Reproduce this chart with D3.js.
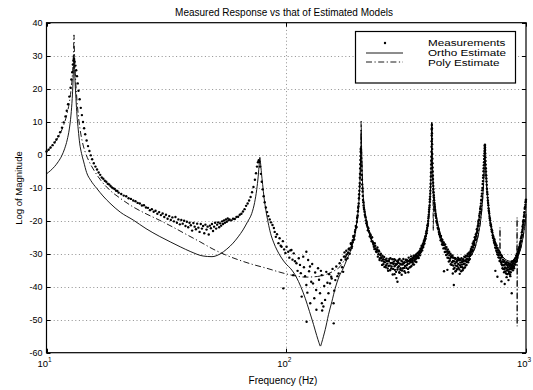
<!DOCTYPE html>
<html>
<head>
<meta charset="utf-8">
<script src="https://cdn.jsdelivr.net/npm/d3@7"></script>
<style>
  body { margin: 0; background: #fff; }
  text { font-family: "Liberation Sans", Arial, Helvetica, sans-serif; fill: #000; }
</style>
</head>
<body>
<script>
// ---- data: [frequency Hz, log magnitude] ----
const measLow = [
  [10.0,1.0],[10.2,1.5],[10.4,2.2],[10.6,2.9],[10.8,3.7],[11.0,4.6],[11.2,5.6],[11.4,6.8],[11.6,8.2],[11.8,9.8],
  [12.0,11.6],[12.15,13.3],[12.3,15.3],[12.45,17.6],[12.6,20.3],[12.7,22.8],[12.8,25.0],[12.88,27.3],[12.95,28.5],[13.02,29.0],
  [13.1,28.2],[13.2,27.0],[13.3,25.6],[13.4,23.8],[13.5,21.6],[13.6,19.4],[13.75,16.8],[13.9,14.2],[14.05,12.0],[14.2,9.9],
  [14.35,8.0],[14.5,6.2],[14.7,4.3],[14.9,2.6],[15.1,1.1],[15.3,-0.2],[15.5,-1.4],[15.75,-2.6],[16.0,-3.6],[16.25,-4.5],
  [16.5,-5.4],[16.75,-6.1],[17.0,-6.9],[17.25,-7.3],[17.5,-7.9],[17.75,-8.2],[18.0,-8.8],[18.25,-9.0],[18.5,-9.5],[18.75,-9.9],
  [19.0,-10.2],[19.25,-10.4],[19.5,-10.9],[19.75,-11.0],[20.0,-11.5],[20.5,-11.9],[21.0,-12.4],[21.5,-12.6],[22.0,-13.2],[22.5,-13.4],
  [23.0,-13.9],[23.5,-14.1],[24.0,-14.6],[24.5,-14.8],[25.0,-15.4],[25.5,-15.3],[26.0,-16.0],[26.5,-16.1],[27.0,-16.8],[27.5,-16.5],
  [28.0,-17.3],[28.5,-17.0],[29.0,-17.9],[29.5,-17.4],[30.0,-18.3],[30.5,-17.8],[31.0,-18.9],[31.5,-18.2],[32.0,-19.4],[32.5,-18.6],
  [33.0,-19.8],[33.5,-19.0],[34.0,-20.2],[34.5,-18.9],[35.0,-20.6],[35.5,-19.6],[36.0,-21.1],[36.5,-19.8],[37.0,-20.9],[37.5,-20.0],
  [38.0,-21.6],[38.5,-20.3],[39.0,-22.0],[39.5,-20.6],[40.0,-21.4],[40.5,-23.0],[41.0,-20.7],[41.5,-21.8],[42.0,-22.6],[42.5,-20.9],
  [43.0,-22.1],[43.5,-23.4],[44.0,-21.0],[44.5,-22.4],[45.0,-21.6],[45.5,-23.8],[46.0,-21.2],[46.5,-22.7],[47.0,-21.8],[47.5,-24.2],
  [48.0,-21.5],[48.5,-22.3],[49.0,-21.0],[49.5,-23.1],[50.0,-21.8],[50.5,-20.6],[51.0,-22.4],[51.5,-21.2],[52.0,-20.5],[52.5,-22.0],
  [53.0,-20.8],[53.5,-21.5],[54.0,-20.2],[54.5,-21.0],[55.0,-19.9],[55.5,-20.6],[56.0,-19.6],[56.5,-20.3],[57.0,-19.3],[57.5,-19.9],
  [58.0,-19.6],[59.0,-19.9],[60.0,-19.4],[61.0,-19.5],[62.0,-18.9],[63.0,-18.8],[64.0,-18.2],[65.0,-17.9],[66.0,-17.2],[67.0,-16.5],
  [68.0,-15.5],[69.0,-14.8],[70.0,-13.9],[71.0,-12.8],[72.0,-11.4],[73.0,-9.8],[74.0,-7.6],[74.8,-5.6],[75.5,-3.6],[76.2,-2.3],
  [76.8,-1.7],[77.3,-2.2],[77.8,-3.6],[78.4,-5.8],[79.0,-8.2],[79.7,-10.5],[80.5,-12.6],[81.3,-14.4],[82.2,-16.0],[83.2,-17.4],
  [84.2,-18.6],[85.3,-19.6],[86.4,-20.5],[87.6,-21.3],[88.8,-22.2]
];

const measMid = [
  [89.5,-23.4],[90.5,-24.9],[91.5,-24.1],[92.8,-26.8],[93.8,-25.3],[94.8,-27.6],[95.6,-27.9],[96.8,-26.2],[97.2,-40.5],[98,-28.7],
  [99.2,-29.8],[100.3,-27.9],[101.9,-29.4],[103,-31.2],[104,-29.0],[105.1,-28.9],[106.2,-31.8],[106.9,-36.5],[107.5,-29.9],[108.8,-32.3],
  [110.3,-32.9],[111.5,-35.2],[112.8,-31.4],[114.1,-33.4],[115,-35.9],[116,-43],[117.7,-30.9],[118.5,-34.1],[119.8,-36.8],[121.3,-29.4],
  [121.3,-39.5],[121.6,-50.6],[122.5,-41.8],[123.4,-31.9],[124.5,-35.3],[125.6,-33.9],[125.9,-45],[127.1,-38.5],[128.3,-33.1],[129.3,-39],
  [130.9,-43.5],[132,-35.7],[133.3,-41],[133.6,-47],[135.7,-34.4],[137,-37.9],[138.3,-42],[139.5,-35.2],[140.6,-36.5],[140.8,-45],
  [141.2,-47.2],[142.9,-46],[144,-39.8],[145.2,-44],[146.9,-35.5],[148.5,-38.8],[150,-42],[151,-36.2],[152.2,-39],[154,-37],
  [154.7,-37.5],[156,-34.6],[157.5,-45],[157.8,-51.1],[158.5,-41.2],[160.2,-38],[161.7,-33.9],[163.5,-36.8],[165.4,-36],[167,-32.9],
  [169.5,-31.9],[171,-34.1],[172.7,-35.5],[174,-30.9]
];

const measHigh = [
  [175,-29.6],[177,-31.8],[179,-30.2],[181,-29.7],[183,-28.4],[185,-28.9],[186.5,-27.1],[188,-27.8],[189.5,-25.9],[191,-25.0],
  [192.5,-24.6],[194,-22.8],[195.5,-22.1],[197,-20.3],[198,-18.9],[199,-17.1],[200,-15.6],[201,-13.2],[201.8,-10.9],[202.5,-8.6],
  [203.1,-5.8],[203.6,-2.9],[204.1,-0.4],[204.6,1.8],[205.1,0.6],[205.6,-2.1],[206.2,-4.8],[206.9,-7.6],[207.7,-10.2],[208.6,-12.5],
  [209.6,-14.4],[210.7,-16.1],[212,-17.3],[213.5,-18.6],[215,-19.9],[216.5,-20.4],[218,-21.8],[220,-22.3],[222,-23.6],[224,-24.1],
  [226,-25.4],[228,-25.0],[230,-26.7],[232,-27.9],[234,-26.8],[236,-28.6],[238,-29.5],[240,-28.1],[242,-30.2],[244,-29.3],
  [246,-31.4],[248,-30.0],[250,-32.1],[252,-30.6],[254,-33.2],[256,-31.0],[258,-32.6],[260,-34.1],[262,-31.5],[264,-33.0],
  [266,-35.2],[268,-32.2],[270,-33.6],[272,-31.4],[274,-34.5],[276,-32.8],[278,-36.3],[280,-33.1],[282,-31.7],[284,-34.9],
  [286,-33.4],[288,-37.4],[290,-32.3],[292,-34.2],[294,-31.9],[296,-35.6],[298,-33.0],[300,-34.4],[302,-32.1],[304,-35.1],
  [306,-33.3],[308,-31.6],[310,-34.3],[312,-32.6],[314,-35.8],[316,-31.8],[318,-33.5],[320,-32.4],[322,-34.6],[324,-31.2],
  [326,-33.0],[328,-31.9],[330,-34.0],[332,-30.8],[334,-32.6],[336,-31.4],[338,-33.2],[340,-30.6],[342,-32.0],[344,-30.9],
  [346,-31.7],[348,-30.2],[350,-31.4],[352,-29.9],[354,-30.8],[356,-29.6],[358,-30.3],[360,-29.2],[362,-29.8],[364,-28.4],
  [366,-28.9],[368,-27.9],[370,-28.2],[372,-26.9],[374,-27.3],[376,-25.9],[378,-26.1],[380,-24.8],[382,-24.6],[384,-23.3],
  [386,-22.9],[388,-21.4],[390,-20.9],[391.5,-19.3],[393,-18.2],[394.5,-16.6],[396,-15.4],[397.3,-13.5],[398.5,-11.8],[399.6,-9.8],
  [400.6,-7.7],[401.5,-5.4],[402.3,-3.0],[403,-0.6],[403.7,2.4],[404.3,5.8],[404.8,9.0],[405.3,6.5],[405.9,3.2],[406.6,0.2],
  [407.4,-2.6],[408.3,-5.1],[409.3,-7.4],[410.4,-9.5],[411.6,-11.4],[413,-13.0],[414.5,-14.6],[416,-15.8],[418,-17.0],[420,-18.4],
  [422,-19.2],[424.5,-20.6],[427,-21.3],[430,-22.4],[433,-23.4],[436,-23.9],[439,-25.1],[442,-24.6],[445,-26.3],[448,-25.8],
  [451,-27.4],[454,-26.6],[457,-28.3],[460,-27.2],[463,-29.4],[466,-28.0],[469,-30.2],[472,-28.7],[475,-31.3],[478,-29.4],
  [481,-32.1],[484,-30.0],[487,-31.0],[490,-33.4],[493,-30.5],[496,-32.2],[499,-34.6],[502,-31.3],[505,-33.0],[508,-31.6],
  [511,-35.2],[514,-32.3],[517,-33.8],[520,-31.2],[523,-34.3],[526,-32.0],[529,-36.1],[532,-32.7],[535,-34.0],[538,-31.4],
  [541,-33.3],[544,-35.0],[547,-31.7],[550,-33.1],[553,-30.9],[556,-34.2],[559,-32.2],[562,-30.6],[565,-33.4],[568,-31.5],
  [571,-30.1],[574,-32.6],[577,-30.8],[580,-29.6],[583,-31.6],[586,-29.8],[589,-28.6],[592,-30.2],[595,-28.7],[598,-27.8],
  [601,-29.0],[604,-27.3],[607,-26.5],[610,-27.4],[613,-25.6],[616,-25.1],[619,-25.7],[622,-23.8],[625,-23.4],[628,-22.9],
  [631,-21.4],[634,-20.8],[637,-19.6],[640,-18.9],[643,-17.3],[646,-16.5],[649,-14.8],[652,-13.6],[655,-11.8],[658,-10.1],
  [661,-8.0],[663.5,-6.2],[666,-4.1],[668,-2.3],[670,-0.4],[671.5,1.1],[673,2.6],[674.3,3.0],[675.5,1.4],[677,-0.8],
  [679,-3.0],[681,-5.1],[683.5,-7.2],[686,-9.1],[689,-11.3],[692,-13.0],[695,-14.6],[698,-16.2],[701,-17.3],[704,-18.6],
  [707,-19.4],[710,-20.7],[714,-21.2],[718,-22.6],[722,-23.0],[726,-24.4],[730,-24.7],[734,-26.0],[738,-25.6],[742,-27.3],
  [746,-26.8],[750,-28.4],[754,-27.5],[758,-29.6],[762,-28.3],[766,-30.4],[770,-29.0],[774,-31.2],[778,-29.6],[782,-32.0],
  [786,-30.3],[790,-33.1],[794,-31.0],[798,-34.4],[802,-31.8],[806,-33.5],[810,-35.6],[814,-32.2],[818,-34.2],[822,-32.8],
  [826,-36.0],[830,-33.3],[834,-35.1],[838,-33.6],[842,-34.8],[846,-32.9],[850,-35.4],[854,-33.7],[858,-36.3],[862,-33.2],
  [866,-34.7],[870,-32.6],[874,-34.4],[878,-33.1],[882,-35.0],[886,-32.3],[890,-33.9],[894,-31.8],[898,-33.2],[902,-31.4],
  [906,-32.5],[910,-30.6],[914,-31.8],[918,-29.9],[922,-31.2],[926,-29.4],[930,-30.0],[934,-28.5],[938,-29.0],[942,-27.4],
  [946,-27.8],[950,-26.3],[954,-26.1],[958,-24.7],[962,-24.3],[966,-22.8],[970,-22.2],[974,-20.6],[978,-19.8],[982,-18.3],
  [986,-17.4],[990,-16.0],[994,-15.2],[998,-14.0],
  [283,-36.2],[291,-38.5],[297,-35.8],[455,-35.3],[470,-34.9],[495,-36.0],[500,-39.5],[507,-35.4],
  [745,-35.2],[760,-37.0],[790,-38.4],[815,-39.2],[830,-37.1],[845,-38.0],[860,-36.8],[872,-42.0]
];

// second pass of measured points in the dense 175-1000 Hz band
const measHighDense = [
  [176,-30.8],[178,-29.1],[180,-31.4],[182,-28.6],[184,-30.0],[186,-26.8],[187.5,-28.3],[189,-26.5],[190.5,-24.6],[192,-25.7],
  [193.5,-23.4],[195,-21.6],[196.5,-21.9],[197.5,-19.2],[198.5,-18.4],[199.5,-16.1],[200.5,-14.8],[201.4,-12.0],[202.2,-9.6],[202.8,-7.0],
  [203.4,-4.2],[203.9,-1.6],[204.4,0.9],[204.9,1.5],[205.4,-1.0],[205.9,-3.4],[206.5,-6.1],[207.3,-9.0],[208.1,-11.2],[209.1,-13.7],
  [210.1,-15.4],[211.3,-16.6],[212.7,-18.2],[214.2,-19.0],[215.8,-20.8],[217.2,-21.3],[219,-22.9],[221,-23.1],[223,-24.8],[225,-24.5],
  [227,-26.2],[229,-26.3],[231,-27.2],[233,-28.6],[235,-27.6],[237,-29.3],[239,-28.8],[241,-30.9],[243,-29.0],[245,-31.9],
  [247,-30.4],[249,-31.3],[251,-33.4],[253,-31.8],[255,-32.4],[257,-34.0],[259,-31.8],[261,-33.5],[263,-32.2],[265,-34.5],
  [267,-33.7],[269,-31.6],[271,-35.0],[273,-32.9],[275,-33.9],[277,-31.7],[279,-34.6],[281,-32.4],[283,-33.8],[285,-31.9],
  [287,-35.5],[289,-33.2],[291,-34.8],[293,-32.6],[295,-33.8],[297,-31.6],[299,-34.9],[301,-33.3],[303,-36.4],[305,-32.4],
  [307,-34.4],[309,-32.9],[311,-35.3],[313,-33.7],[315,-31.9],[317,-34.3],[319,-32.0],[321,-33.1],[323,-35.6],[325,-32.2],
  [327,-34.2],[329,-32.5],[331,-31.6],[333,-33.7],[335,-31.9],[337,-32.5],[339,-31.3],[341,-33.3],[343,-30.8],[345,-32.4],
  [347,-30.5],[349,-32.5],[351,-30.7],[353,-31.1],[355,-29.8],[357,-31.3],[359,-29.5],[361,-30.5],[363,-28.6],[365,-29.4],
  [367,-27.6],[369,-29.0],[371,-27.4],[373,-28.0],[375,-26.4],[377,-26.9],[379,-25.3],[381,-25.5],[383,-23.9],[385,-23.8],
  [387,-22.2],[389,-21.6],[390.8,-20.1],[392.3,-18.8],[393.8,-17.3],[395.3,-16.0],[396.7,-14.3],[397.9,-12.7],[399,-10.9],[400.1,-8.8],
  [401,-6.6],[401.9,-4.2],[402.7,-1.8],[403.4,0.9],[404,4.1],[404.6,7.6],[405.1,8.0],[405.6,4.8],[406.2,1.7],[407,-1.2],
  [407.8,-3.9],[408.8,-6.3],[409.8,-8.5],[411,-10.4],[412.3,-12.3],[413.7,-13.8],[415.2,-15.2],[417,-16.5],[419,-17.8],[421,-18.6],
  [423,-20.1],[425.5,-20.4],[428.5,-22.1],[431.5,-22.7],[434.5,-24.1],[437.5,-24.6],[440.5,-25.9],[443.5,-25.6],[446.5,-27.2],[449.5,-26.8],
  [452.5,-28.4],[455.5,-27.3],[458.5,-29.5],[461.5,-28.5],[464.5,-30.4],[467.5,-29.3],[470.5,-31.2],[473.5,-29.8],[476.5,-32.4],[479.5,-30.5],
  [482.5,-31.5],[485.5,-33.2],[488.5,-30.8],[491.5,-32.6],[494.5,-31.2],[497.5,-33.6],[500.5,-32.3],[503.5,-34.3],[506.5,-31.4],[509.5,-33.6],
  [512.5,-32.6],[515.5,-34.7],[518.5,-32.0],[521.5,-33.1],[524.5,-31.5],[527.5,-34.8],[530.5,-33.5],[533.5,-31.8],[536.5,-35.3],[539.5,-32.6],
  [542.5,-34.1],[545.5,-32.4],[548.5,-34.5],[551.5,-32.1],[554.5,-33.0],[557.5,-31.1],[560.5,-33.6],[563.5,-31.8],[566.5,-32.5],[569.5,-30.7],
  [572.5,-31.8],[575.5,-29.9],[578.5,-31.9],[581.5,-30.2],[584.5,-30.6],[587.5,-29.2],[590.5,-29.4],[593.5,-28.0],[596.5,-29.3],[599.5,-26.9],
  [602.5,-28.1],[605.5,-26.2],[608.5,-26.9],[611.5,-25.0],[614.5,-25.9],[617.5,-24.2],[620.5,-24.6],[623.5,-22.6],[626.5,-22.4],[629.5,-21.8],
  [632.5,-20.3],[635.5,-19.9],[638.5,-18.4],[641.5,-17.8],[644.5,-16.2],[647.5,-15.6],[650.5,-13.9],[653.5,-12.6],[656.5,-10.8],[659.5,-8.9],
  [662.2,-7.0],[664.8,-5.0],[667,-3.2],[669,-1.3],[670.8,0.4],[672.3,1.9],[673.6,2.9],[674.9,2.2],[676.2,0.4],[678,-1.9],
  [680,-4.1],[682.2,-6.2],[684.7,-8.1],[687.5,-10.3],[690.5,-12.0],[693.5,-13.9],[696.5,-15.3],[699.5,-16.9],[702.5,-17.8],[705.5,-19.2],
  [708.5,-19.9],[712,-21.4],[716,-21.8],[720,-23.3],[724,-23.6],[728,-25.2],[732,-25.3],[736,-26.7],[740,-26.2],[744,-28.1],
  [748,-27.4],[752,-29.1],[756,-28.3],[760,-30.2],[764,-29.0],[768,-31.1],[772,-29.7],[776,-32.2],[780,-30.4],[784,-31.3],
  [788,-32.6],[792,-30.6],[796,-33.5],[800,-32.4],[804,-34.6],[808,-32.5],[812,-34.7],[816,-33.3],[820,-35.4],[824,-33.1],
  [828,-34.5],[832,-32.6],[836,-36.2],[840,-34.1],[844,-33.3],[848,-35.9],[852,-33.0],[856,-34.6],[860,-34.2],[864,-35.6],
  [868,-33.5],[872,-33.9],[876,-32.4],[880,-34.2],[884,-33.6],[888,-32.9],[892,-34.4],[896,-32.4],[900,-32.1],[904,-33.3],
  [908,-31.2],[912,-32.4],[916,-30.6],[920,-30.4],[924,-30.6],[928,-28.8],[932,-29.4],[936,-28.0],[940,-28.1],[944,-27.0],
  [948,-26.6],[952,-25.4],[956,-25.2],[960,-23.6],[964,-23.4],[968,-21.7],[972,-21.2],[976,-19.9],[980,-18.8],[984,-17.6],
  [988,-16.4],[992,-15.8],[996,-14.4],[999.5,-13.6]
];

const orthoEstimate = [
  [10,-5.8],[10.4,-4.8],[10.8,-3.6],[11.2,-2.1],[11.6,-0.2],[11.9,1.8],[12.2,4.5],[12.45,7.8],[12.65,12],[12.8,17],
  [12.9,22],[12.97,27],[13.02,30.4],[13.08,27],[13.16,22],[13.27,17],[13.4,12],[13.57,7.5],[13.75,3.5],[14.0,0.4],
  [14.3,-2.2],[14.7,-5.4],[15.3,-7.8],[16.2,-10.2],[17.2,-12.5],[18.4,-14.7],[20.3,-17.4],[23,-19.8],[26,-22.4],[29.7,-24.8],
  [33,-26.5],[36.1,-27.9],[40,-29.4],[45,-30.7],[49,-30.9],[52.9,-30.1],[56.5,-28.6],[60,-26.8],[63,-24.9],[66,-22.8],
  [69,-20.3],[71.8,-17.8],[73.8,-14.5],[75.3,-10.6],[76.4,-6.5],[77.2,-2.5],[77.6,-0.8],[78.1,-2.4],[78.8,-5.5],[79.7,-9],
  [80.8,-13],[82.3,-17],[84,-20.5],[86,-23.8],[88.5,-26.5],[91.5,-28.9],[95,-31],[100,-33.2],[104,-34.4],[110,-37],
  [115,-40],[120,-43.5],[125,-47.5],[130,-51.5],[134,-54.8],[137,-57],[138.8,-58],[140.5,-57],[143,-55],[145.4,-53],
  [150,-48.5],[155,-44.5],[160,-40.5],[166,-37],[172.7,-34.5],[178,-32.2],[184.5,-29.5],[190,-26.5],[194,-23.5],[197.5,-19.8],
  [200,-16],[201.8,-12],[203,-8],[204,-3],[204.8,2],[205.4,7.5],[206,3],[206.8,-2.5],[207.8,-7.5],[209,-11.5],
  [210.5,-14.5],[213,-17.5],[216,-20],[220,-22.6],[225,-25],[231,-27.1],[238,-28.9],[246,-30.5],[256,-31.7],[268,-32.5],
  [282,-32.9],[296,-33],[310,-32.8],[325,-32.3],[340,-31.6],[352,-30.6],[363,-29.4],[372,-27.8],[380,-25.6],[386,-23.2],
  [391,-20.4],[395,-17],[398,-13.2],[400.5,-8.6],[402.3,-3.6],[403.6,1.8],[404.5,9.8],[405.4,3],[406.6,-1.5],[408.3,-5.5],
  [410.5,-9.2],[413.5,-12.6],[417,-15.4],[422,-18.3],[430,-21.3],[440,-24.2],[452,-26.6],[466,-28.5],[482,-29.9],[498,-30.9],
  [514,-31.6],[530,-32],[548,-32.1],[566,-31.8],[585,-30.9],[600,-29.7],[614,-28],[627,-25.6],[638,-22.8],[648,-19.5],
  [656,-15.6],[662,-11.6],[667,-7.2],[670.5,-3],[673,0.6],[674.5,2.8],[676,0.3],[678.5,-3.3],[682,-7],[686,-10],
  [692,-13.4],[699,-16.4],[708,-19.6],[718,-22.3],[731,-24.8],[746,-26.9],[765,-28.8],[785,-30.2],[808,-31.3],[832,-32],
  [858,-32.3],[886,-31.9],[912,-31],[935,-29.9],[955,-27.8],[970,-25.4],[982,-22.9],[992,-20.4],[1000,-18]
];

const polyEstimate = [
  [10,0.8],[10.4,2.1],[10.8,3.6],[11.2,5.4],[11.6,7.6],[11.9,9.8],[12.2,12.6],[12.45,15.8],[12.65,19.5],[12.8,23.5],
  [12.9,27.5],[12.97,32],[13.02,36.3],[13.08,31],[13.16,26],[13.27,21],[13.4,16.5],[13.57,12],[13.8,7.8],[14.1,4],
  [14.5,0.8],[15,-1.8],[15.8,-4.8],[16.7,-7.4],[18.4,-10.8],[20.3,-13.2],[22.95,-15.8],[26,-17.9],[29.7,-19.9],[34,-22.1],
  [38.4,-24.2],[43.7,-26.4],[49.5,-28.6],[56,-30.4],[64,-32],[72,-33.2],[82.8,-34.4],[94,-35.6],[107,-36.6],[120,-37.1],
  [135,-36.9],[150,-36],[160,-35],[167.6,-33.9],[175,-31.8],[182,-29.2],[188,-27.2],[193,-24.5],[196.5,-21],[199.5,-17.2],
  [201.5,-12.5],[203,-7],[204,-2],[204.8,4],[205.3,10.5],[205.9,4],[206.8,-2.5],[207.8,-7.5],[209,-11.5],[210.5,-14.5],
  [213,-17.5],[216,-20],[220,-22.6],[225,-25],[231,-27.1],[238,-28.9],[246,-30.5],[256,-31.7],[268,-32.5],[282,-32.9],
  [296,-33],[310,-32.8],[325,-32.3],[340,-31.6],[352,-30.6],[363,-29.4],[372,-27.8],[380,-25.6],[386,-23.2],[391,-20.4],
  [395,-17],[398,-13.2],[400.5,-8.6],[402.3,-3.6],[403.6,2],[404.5,10],[405.4,3],[406.6,-1.5],[408,-6],[409.5,-14],
  [410.5,-23],[411.5,-14],[413,-12.2],[417,-15.4],[422,-18.3],[430,-21.3],[440,-24.2],[452,-26.6],[466,-28.5],[482,-29.9],
  [498,-30.9],[514,-31.6],[530,-32],[548,-32.1],[566,-31.8],[585,-30.9],[600,-29.7],[614,-28],[627,-25.6],[638,-22.8],
  [648,-19.5],[656,-15.6],[662,-11.6],[667,-7.2],[670.5,-3],[673,0.6],[674.5,3],[676,0.3],[678.5,-3.3],[682,-7],
  [686,-10],[692,-13.4],[699,-16.4],[708,-19.6],[718,-22.3],[731,-24.8],[746,-26.9],[765,-28.8],[775,-29.5],[778,-29],
  [779,-22],[780,-29.8],[785,-30.2],[808,-31.3],[832,-32],[858,-32.3],[886,-31.9],[905,-31.2],[914,-30.5],[917,-27],
  [918,-19],[918.6,-52],[919.5,-33],[922,-30.7],[935,-29.9],[955,-27.8],[970,-25.4],[982,-22.9],[992,-20.4],[1000,-18]
];

const yTicks = [-60, -50, -40, -30, -20, -10, 0, 10, 20, 30, 40];
const xTicks = [10, 100, 1000];
const xTickExp = ["1", "2", "3"];
const legendLabels = ["Measurements", "Ortho Estimate", "Poly Estimate"];

// ---- layout ----
const W = 533, H = 390;
const padL = 46.5, padR = 526, padT = 22.7, padB = 352.7;

const svg = d3.select("body").append("svg")
  .attr("width", W).attr("height", H);

const x = d3.scaleLog().domain([10, 1000]).range([padL, padR]);
const y = d3.scaleLinear().domain([-60, 40]).range([padB, padT]);

// grid
const grid = svg.append("g")
  .attr("stroke", "#444").attr("stroke-width", 0.6).attr("stroke-dasharray", "1,2.6");
grid.selectAll("line.h").data(yTicks.slice(1, -1)).enter().append("line")
  .attr("x1", padL).attr("x2", padR)
  .attr("y1", d => Math.round(y(d)) + 0.5).attr("y2", d => Math.round(y(d)) + 0.5);
grid.selectAll("line.v").data([100]).enter().append("line")
  .attr("y1", padT).attr("y2", padB)
  .attr("x1", d => Math.round(x(d)) + 0.5).attr("x2", d => Math.round(x(d)) + 0.5);

const plot = svg.append("g");

const measurements = measLow.concat(measMid, measHigh, measHighDense);
plot.selectAll("circle").data(measurements).enter().append("circle")
  .attr("cx", d => x(d[0])).attr("cy", d => y(d[1]))
  .attr("r", 1.2).attr("fill", "#000");

const line = d3.line().x(d => x(d[0])).y(d => y(d[1])).curve(d3.curveMonotoneX);

plot.append("path").datum(orthoEstimate)
  .attr("d", line).attr("fill", "none")
  .attr("stroke", "#000").attr("stroke-width", 0.9);

plot.append("path").datum(polyEstimate)
  .attr("d", line).attr("fill", "none")
  .attr("stroke", "#000").attr("stroke-width", 0.9)
  .attr("stroke-dasharray", "6,2.5,1.2,2.5");

// axes box
svg.append("rect")
  .attr("x", padL).attr("y", padT)
  .attr("width", padR - padL).attr("height", padB - padT)
  .attr("fill", "none").attr("stroke", "#000").attr("stroke-width", 1.2);

// ticks (both sides, pointing in)
const tk = svg.append("g").attr("stroke", "#000").attr("stroke-width", 1);
yTicks.forEach(v => {
  const py = Math.round(y(v)) + 0.5;
  tk.append("line").attr("x1", padL).attr("x2", padL + 4).attr("y1", py).attr("y2", py);
  tk.append("line").attr("x1", padR - 4).attr("x2", padR).attr("y1", py).attr("y2", py);
});
xTicks.forEach(v => {
  const px = Math.round(x(v)) + 0.5;
  tk.append("line").attr("x1", px).attr("x2", px).attr("y1", padB).attr("y2", padB - 4);
  tk.append("line").attr("x1", px).attr("x2", px).attr("y1", padT).attr("y2", padT + 4);
});

svg.append("g").selectAll("text").data(yTicks).enter().append("text")
  .attr("x", padL - 4).attr("y", d => y(d) + 3.2)
  .attr("text-anchor", "end").attr("font-size", 9)
  .text(d => d);

const xl = svg.append("g");
xTicks.forEach((v, i) => {
  const t = xl.append("text").attr("x", x(v) - 2).attr("y", 367)
    .attr("text-anchor", "middle").attr("font-size", 9.5);
  t.append("tspan").text("10");
  t.append("tspan").attr("dy", -5).attr("font-size", 6.5).text(xTickExp[i]);
});

// labels
svg.append("text").attr("x", 284).attr("y", 16)
  .attr("text-anchor", "middle").attr("font-size", 10)
  .text("Measured Response vs that of Estimated Models");
svg.append("text").attr("x", 283).attr("y", 384)
  .attr("text-anchor", "middle").attr("font-size", 10)
  .text("Frequency (Hz)");
svg.append("text").attr("transform", "translate(21.5,188) rotate(-90)")
  .attr("text-anchor", "middle").attr("font-size", 9.5)
  .text("Log of Magnitude");

// legend
const lg = svg.append("g");
lg.append("rect").attr("x", 355.5).attr("y", 31.5).attr("width", 160).attr("height", 51.5)
  .attr("fill", "#fff").attr("stroke", "#000").attr("stroke-width", 1.2);
lg.append("circle").attr("cx", 385).attr("cy", 43).attr("r", 1.2).attr("fill", "#000");
lg.append("line").attr("x1", 366).attr("x2", 403).attr("y1", 53).attr("y2", 53)
  .attr("stroke", "#000").attr("stroke-width", 0.9);
lg.append("line").attr("x1", 366).attr("x2", 403).attr("y1", 62).attr("y2", 62)
  .attr("stroke", "#000").attr("stroke-width", 0.9).attr("stroke-dasharray", "6,2.5,1.2,2.5");
lg.selectAll("text").data(legendLabels).enter().append("text")
  .attr("transform", (d, i) => `translate(428,${46.4 + i * 9.7}) scale(1.3,1)`)
  .attr("font-size", 9).text(d => d);
</script>
</body>
</html>
